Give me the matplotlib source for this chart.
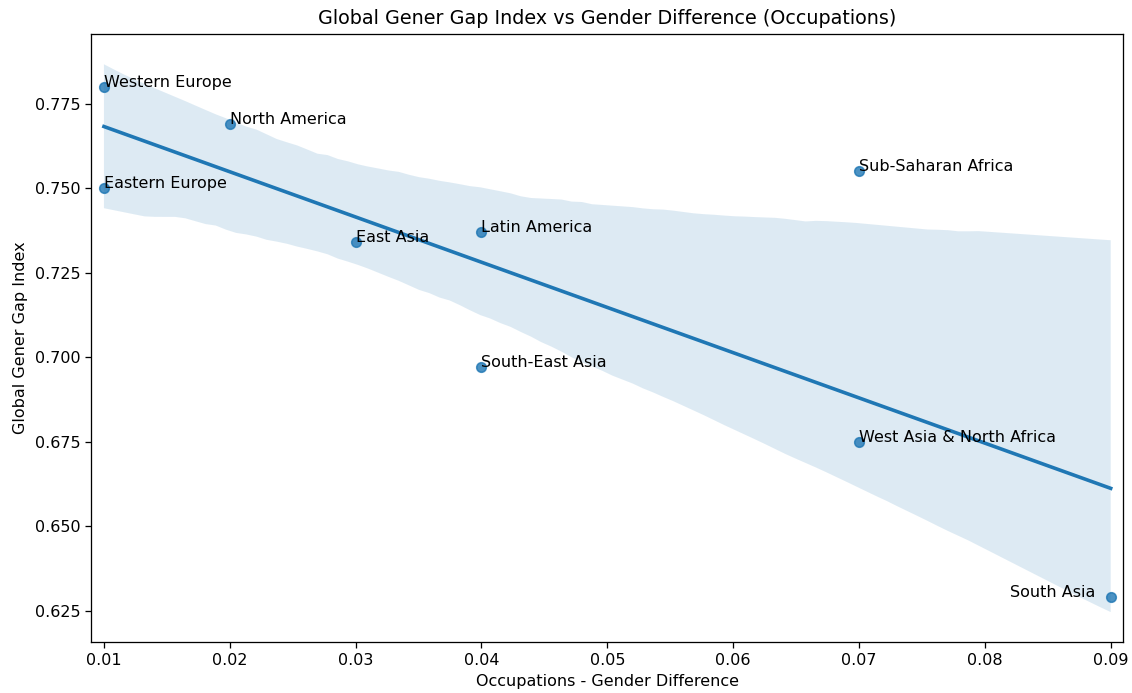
import pandas as pd
import seaborn as sns
import matplotlib
matplotlib.use('Agg')
import matplotlib.pyplot as plt
from matplotlib.ticker import MultipleLocator

regions = ['Western Europe', 'North America', 'Eastern Europe', 'East Asia',
           'Latin America', 'Sub-Saharan Africa', 'South-East Asia',
           'West Asia & North Africa', 'South Asia']
occupation_diff = [0.01, 0.02, 0.01, 0.03, 0.04, 0.07, 0.04, 0.07, 0.09]
gggi = [0.780, 0.769, 0.750, 0.734, 0.737, 0.755, 0.697, 0.675, 0.629]

df = pd.DataFrame({'Region': regions,
                   'Occupations - Gender Difference': occupation_diff,
                   'Global Gener Gap Index': gggi})

# original looks like default sizes rendered at ~115 dpi
fig, ax = plt.subplots(figsize=(1132 / 115, 693 / 115), dpi=115)
sns.regplot(data=df, x='Occupations - Gender Difference',
            y='Global Gener Gap Index', ax=ax, seed=3)

for region, x, y in zip(regions, occupation_diff, gggi):
    if region == 'South Asia':
        ax.text(x - 0.008, y, region)
    else:
        ax.text(x, y, region)

ax.set_xlim(0.0090, 0.0910)
ax.set_ylim(0.6158, 0.7957)
ax.yaxis.set_major_locator(MultipleLocator(0.025))
ax.set_title('Global Gener Gap Index vs Gender Difference (Occupations)')
fig.subplots_adjust(left=0.0807, right=0.9923, top=0.9514, bottom=0.074)
plt.savefig('out.png', dpi=115)
